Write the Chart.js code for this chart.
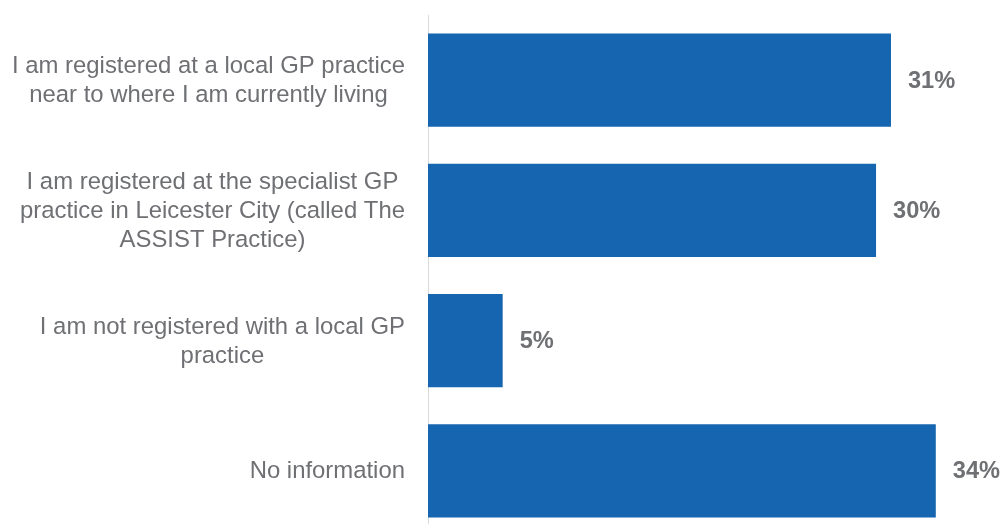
<!DOCTYPE html>
<html>
<head>
<meta charset="utf-8">
<script src="https://cdn.jsdelivr.net/npm/chart.js@4/dist/chart.umd.min.js"></script>
<style>
  html, body { margin: 0; padding: 0; background: #fff; overflow: hidden; }
  #wrap { position: relative; width: 1003px; height: 536px; }
</style>
</head>
<body>
<div id="wrap"><canvas id="gpChart" width="1003" height="536"></canvas></div>
<script>
// categories (one array of lines per bar) and percentages
const categories = [
  ['I am registered at a local GP practice', 'near to where I am currently living'],
  ['I am registered at the specialist GP', 'practice in Leicester City (called The', 'ASSIST Practice)'],
  ['I am not registered with a local GP', 'practice'],
  ['No information']
];
const shares = [31, 30, 5, 34];

const BAR_BLUE = '#1565b0';
const TEXT_GREY = '#6f7073';
const FONT = '"Liberation Sans", Arial, sans-serif';

// draws the wrapped category labels (centered block, right edge aligned) and % labels
const labelPlugin = {
  id: 'labelPlugin',
  afterDatasetsDraw(chart) {
    const ctx = chart.ctx;
    const yScale = chart.scales.y;
    const meta = chart.getDatasetMeta(0);
    const lineH = 29;
    const rightEdge = 405;

    ctx.save();
    ctx.fillStyle = TEXT_GREY;
    ctx.textBaseline = 'middle';

    ctx.font = '23.9px ' + FONT;
    ctx.textAlign = 'center';
    categories.forEach((lines, i) => {
      const cy = yScale.getPixelForValue(i) + 1;
      const maxW = Math.max(...lines.map(l => ctx.measureText(l).width));
      const cx = rightEdge - maxW / 2;
      const top = cy - (lines.length - 1) * lineH / 2;
      lines.forEach((l, j) => ctx.fillText(l, cx, top + j * lineH));
    });

    ctx.font = 'bold 23.6px ' + FONT;
    ctx.textAlign = 'left';
    meta.data.forEach((bar, i) => {
      ctx.fillText(shares[i] + '%', bar.x + 17, bar.y + 1);
    });
    ctx.restore();
  }
};

new Chart(document.getElementById('gpChart'), {
  type: 'bar',
  data: {
    labels: categories.map(c => c.join(' ')),
    datasets: [{
      data: shares,
      backgroundColor: BAR_BLUE,
      categoryPercentage: 1,
      barPercentage: 0.715
    }]
  },
  options: {
    indexAxis: 'y',
    responsive: false,
    animation: false,
    devicePixelRatio: 1,
    layout: { padding: { top: 15, right: 0, bottom: 0, left: 0 } },
    plugins: { legend: { display: false }, tooltip: { enabled: false } },
    scales: {
      x: {
        min: 0,
        max: 38.5,
        display: false
      },
      y: {
        grid: { display: false },
        border: { display: true, color: '#d9d9d9', width: 1 },
        ticks: { display: false },
        afterFit(scale) { scale.width = 428; }
      }
    }
  },
  plugins: [labelPlugin]
});
</script>
</body>
</html>
